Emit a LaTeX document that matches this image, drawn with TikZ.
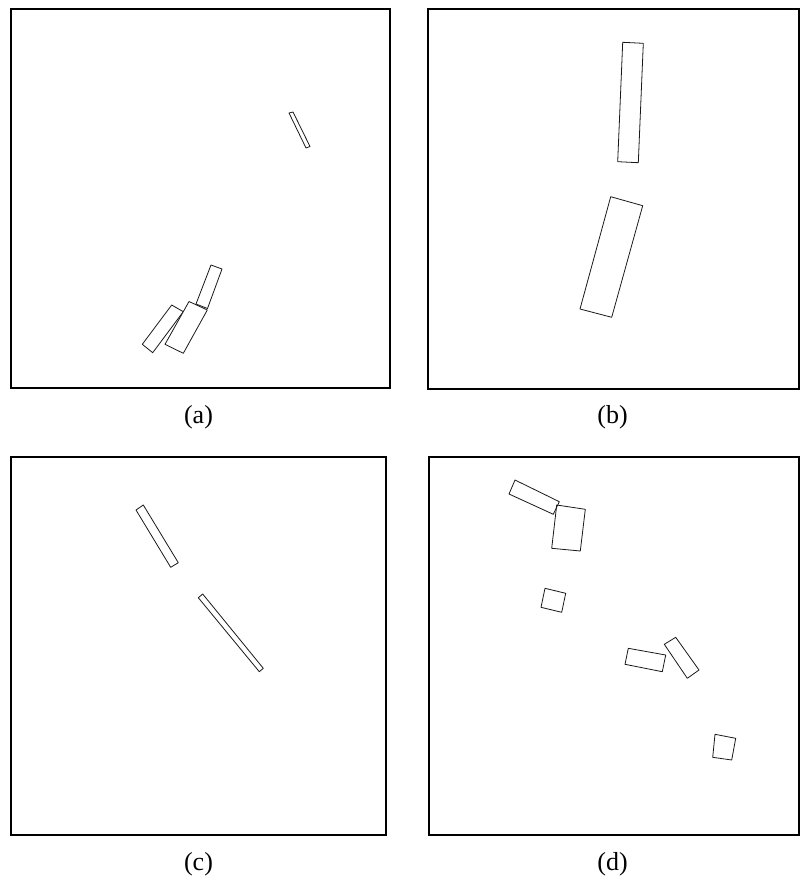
\documentclass[tikz,border=0pt]{standalone}
\usepackage{fontspec}
\setmainfont{Liberation Serif}
\begin{document}
\begin{tikzpicture}[x=1pt,y=-1pt,
  frame/.style={draw=black,line width=1.3pt},
  piece/.style={draw=black!90,line width=0.8pt,line join=round},
  captext/.style={font=\fontsize{26}{30}\selectfont,inner sep=0pt}]
\useasboundingbox (0,0) rectangle (800,883);
% frames
\draw[frame] (11,9) rectangle (390,388);
\draw[frame] (428,9) rectangle (799,389);
\draw[frame] (11,457) rectangle (386,835);
\draw[frame] (429,457) rectangle (799,835);
% captions
\node[captext] (la) at (198.5,417.5) {(a)};
\node[captext] (lb) at (612.5,417.5) {(b)};
\node[captext] (lc) at (198.5,864.5) {(c)};
\node[captext] (ld) at (612.5,864.5) {(d)};
% panel (a)
\draw[piece] (289,113) -- (293,112) -- (310,146.5) -- (306,148) -- cycle;
\draw[piece] (211,265) -- (222,269) -- (207.5,308.5) -- (196,304) -- cycle;
\draw[piece] (171.7,305) -- (183.3,311.7) -- (152.7,352.7) -- (142.3,344.3) -- cycle;
\draw[piece,fill=white] (189,301.5) -- (207.3,310) -- (183.3,353.3) -- (165,344.3) -- cycle;
% panel (b)
\draw[piece] (622.7,42.3) -- (643.3,43.3) -- (638.3,162.7) -- (617.7,161.7) -- cycle;
\draw[piece] (610.7,196.7) -- (642.7,205.7) -- (611.7,317.3) -- (580,309) -- cycle;
% panel (c)
\draw[piece] (136,510) -- (143.3,505) -- (178.3,562.7) -- (170.7,567.3) -- cycle;
\draw[piece] (198.3,597.7) -- (202.7,594) -- (263.3,668.3) -- (259.3,671.7) -- cycle;
% panel (d)
\draw[piece] (556.7,505) -- (585.3,509.3) -- (580.3,551) -- (551.7,548.3) -- cycle;
\draw[piece] (515,480) -- (559.3,501.7) -- (553.3,514.3) -- (509,494) -- cycle;
\draw[piece] (545,588.3) -- (565.7,593.3) -- (561.7,612.3) -- (541,607.3) -- cycle;
\draw[piece] (628.3,648.3) -- (665.7,655) -- (662.3,671.7) -- (625,664.3) -- cycle;
\draw[piece] (664.3,644.3) -- (675.7,637.3) -- (699,670) -- (687.3,678.3) -- cycle;
\draw[piece] (715,734.3) -- (735.7,738.3) -- (731.7,760) -- (712.7,757.3) -- cycle;
\end{tikzpicture}
\end{document}
